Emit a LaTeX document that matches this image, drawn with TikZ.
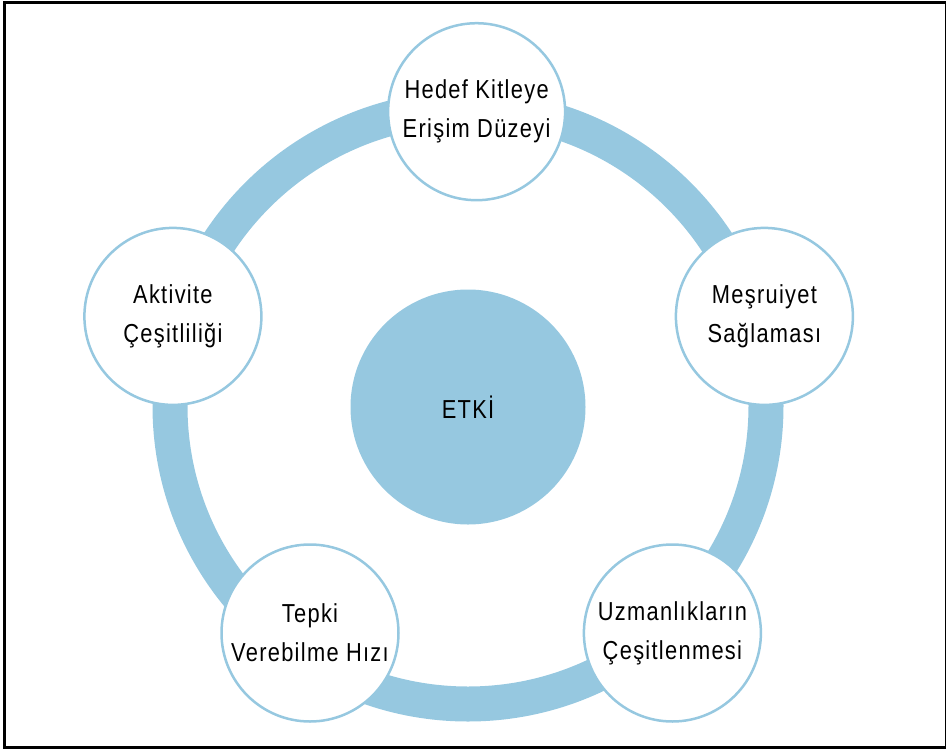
\documentclass[tikz,border=0pt]{standalone}
\usepackage{fontspec}
\setmainfont[FakeStretch=0.84, LetterSpace=5]{Liberation Sans}
\usepackage{tikz}
\usepackage{xcolor}
\usetikzlibrary{positioning}
\definecolor{ringblue}{HTML}{96C8E0}
\tikzstyle{frame} = [draw=black, line width=3pt]
\tikzstyle{ring} = [draw=ringblue, line width=35pt]
\tikzstyle{core} = [circle, minimum size=235pt, inner sep=0pt, fill=ringblue, text centered, font=\fontsize{26}{39}\selectfont]
\tikzstyle{factor} = [circle, minimum size=177pt, inner sep=0pt, draw=ringblue, line width=2.5pt, fill=white, align=center, font=\fontsize{26}{39}\selectfont]

\begin{document}
\begin{tikzpicture}[x=1pt, y=-1pt]
        \useasboundingbox (0,0) rectangle (946,750);
        \draw [frame] (4.5,2.5) rectangle (946,747.5);

        \node (etki) [core] at (468,407) {ETK\.I};
        \draw [ring] (468,406) circle (298);

        \node (reach) [factor] at (476.6,111.7) {Hedef Kitleye\\Erişim Düzeyi};
        \node (legit) [factor] at (764.4,316.4) {Meşruiyet\\Sağlaması};
        \node (expert) [factor] at (672.4,633) {Uzmanlıkların\\Çeşitlenmesi};
        \node (speed) [factor] at (310,633) {Tepki\\Verebilme Hızı};
        \node (activity) [factor] at (172.9,316.4) {Aktivite\\Çeşitliliği};
    \end{tikzpicture}
\end{document}
